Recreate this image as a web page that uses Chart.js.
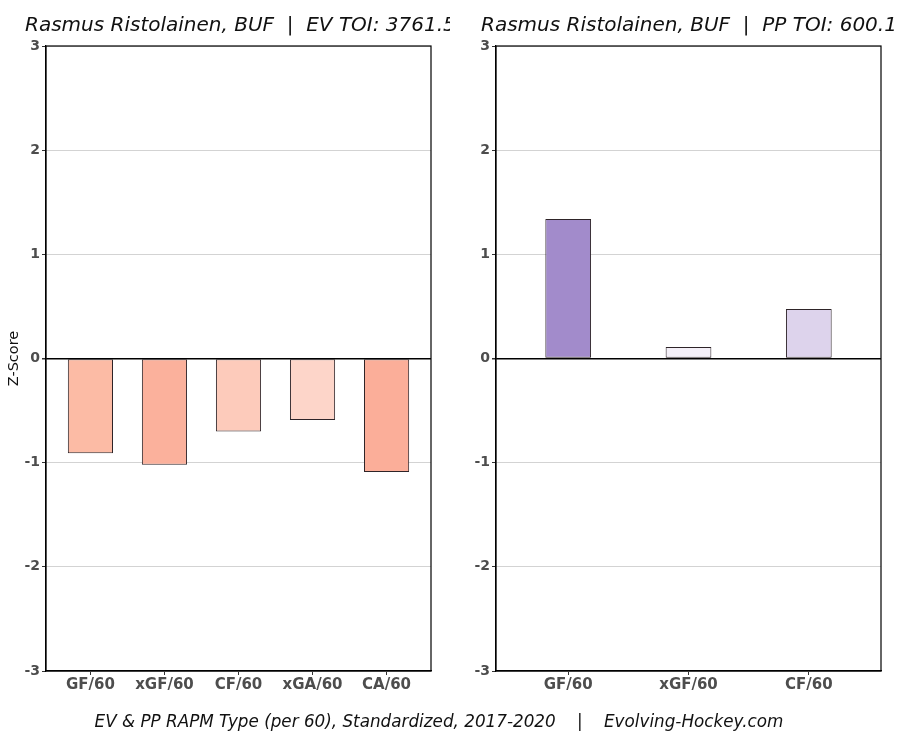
<!DOCTYPE html>
<html>
<head>
<meta charset="utf-8">
<script src="https://cdn.jsdelivr.net/npm/chart.js@4.4.1/dist/chart.umd.min.js"></script>
<style>
  html, body { margin: 0; padding: 0; background: #fff; }
  #wrap { position: relative; width: 900px; height: 741px; overflow: hidden; font-family: "DejaVu Sans", sans-serif; }
  .panel { position: absolute; top: 0; width: 450px; height: 741px; }
  .title { position: absolute; top: 12px; font-style: italic; font-size: 20px; color: #111; white-space: pre; overflow: hidden; }
  #footer { position: absolute; top: 711px; left: 0; width: 878px; text-align: center; font-style: italic; font-size: 16.8px; color: #111; white-space: pre; }
</style>
</head>
<body>
<div id="wrap">
  <div class="panel" style="left:0"><canvas id="evChart" width="450" height="741"></canvas></div>
  <div class="panel" style="left:450px"><canvas id="ppChart" width="450" height="741"></canvas></div>
  <div class="title" style="left:25px; width:425px">Rasmus Ristolainen, BUF  |  EV TOI: 3761.5</div>
  <div class="title" style="left:481px; width:419px">Rasmus Ristolainen, BUF  |  PP TOI: 600.1</div>
  <div id="footer">EV &amp; PP RAPM Type (per 60), Standardized, 2017-2020    |    Evolving-Hockey.com</div>
</div>
<script>
const evLabels = ['GF/60', 'xGF/60', 'CF/60', 'xGA/60', 'CA/60'];
const evValues = [-0.91, -1.02, -0.70, -0.59, -1.09];
const ppLabels = ['GF/60', 'xGF/60', 'CF/60'];
const ppValues = [1.34, 0.11, 0.475];
const yTicks = [-3, -2, -1, 0, 1, 2, 3];

const evColors = ['#fcbba5', '#fbb19c', '#fdcbbb', '#fdd5c9', '#fbae99'];
const ppColors = ['#a28bcb', '#f4f0f8', '#ddd3ec'];

const frame = {
    id: 'frame',
    afterDraw(chart) {
        const a = chart.chartArea;
        const c = chart.ctx;
        c.save();
        c.strokeStyle = '#000';
        c.lineWidth = 1.2;
        c.strokeRect(a.left, a.top, a.right - a.left, a.bottom - a.top);
        c.restore();
    }
};

function makeChart(id, labels, values, colors, barPct, showTitle) {
    new Chart(document.getElementById(id), {
        type: 'bar',
        data: {
            datasets: [{
                data: values.map((v, i) => ({ x: i, y: v })),
                backgroundColor: colors,
                borderColor: '#2e2428',
                borderWidth: 1,
                borderSkipped: false,
                barPercentage: barPct,
                categoryPercentage: 1
            }]
        },
        options: {
            responsive: false,
            animation: false,
            layout: { padding: { left: 0, right: 19, top: 46, bottom: 40 } },
            plugins: { legend: { display: false }, tooltip: { enabled: false } },
            scales: {
                x: {
                    type: 'linear',
                    min: -0.6,
                    max: labels.length - 0.4,
                    offset: false,
                    afterBuildTicks: s => { s.ticks = labels.map((_, i) => ({ value: i })); },
                    afterFit: s => { s.height = 30; },
                    ticks: {
                        color: '#4d4d4d',
                        font: { family: 'DejaVu Sans', size: 15, weight: 'bold' },
                        padding: 1,
                        maxRotation: 0,
                        autoSkip: false,
                        callback: v => labels[v]
                    },
                    grid: { offset: false, drawOnChartArea: false, drawTicks: true, tickLength: 4, tickColor: '#333' },
                    border: { color: '#000', width: 1.2 }
                },
                y: {
                    min: -3,
                    max: 3,
                    afterBuildTicks: s => { s.ticks = yTicks.map(v => ({ value: v })); },
                    afterFit: s => { s.width = 46; },
                    ticks: { color: '#4d4d4d', font: { family: 'DejaVu Sans', size: 14, weight: 'bold' }, padding: 2 },
                    grid: {
                        color: c => c.tick && c.tick.value === 0 ? '#000' : '#d3d3d3',
                        lineWidth: c => c.tick && c.tick.value === 0 ? 1.5 : 1,
                        tickLength: 4,
                        tickColor: '#333'
                    },
                    border: { color: '#000', width: 1.2 },
                    title: {
                        display: showTitle,
                        text: 'Z-Score',
                        color: '#111',
                        font: { family: 'DejaVu Sans', size: 14.5 },
                        padding: { top: 6, bottom: 0 }
                    }
                }
            }
        },
        plugins: [frame]
    });
}

makeChart('evChart', evLabels, evValues, evColors, 0.61, true);
makeChart('ppChart', ppLabels, ppValues, ppColors, 0.38, false);
</script>
</body>
</html>
